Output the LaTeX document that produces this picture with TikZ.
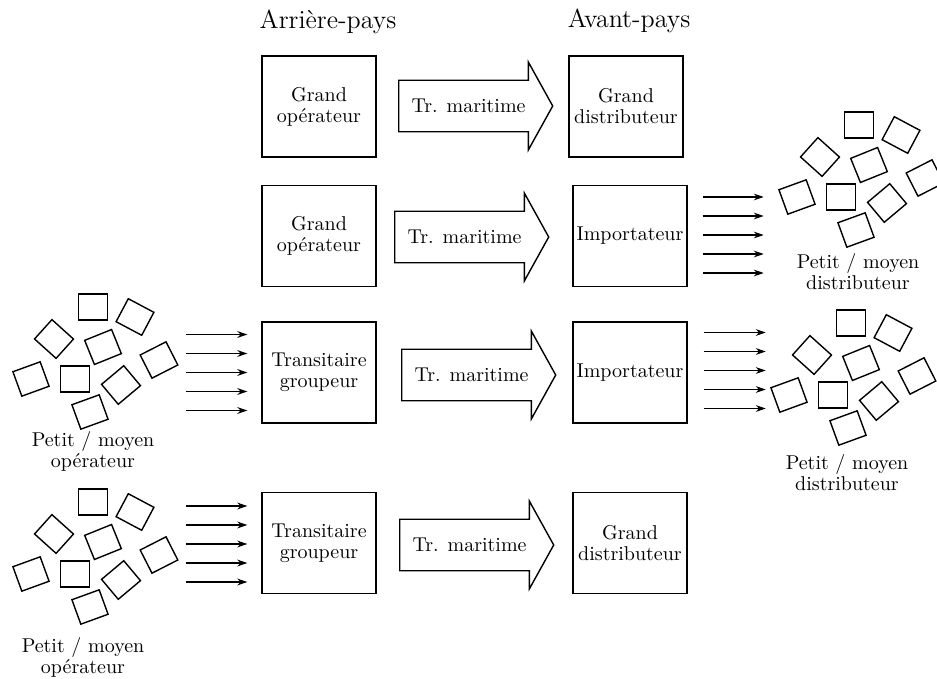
\documentclass[tikz,border=0pt]{standalone}
\usetikzlibrary{positioning, shapes.arrows, arrows.meta, calc}

\begin{document}
\begin{tikzpicture}[x=0.5pt, y=-0.5pt, font=\fontsize{10}{10.5}\selectfont,
  box/.style={draw, line width=0.7pt, minimum width=57pt, minimum height=50.5pt, align=center, inner sep=1pt},
  flow/.style={draw, line width=0.7pt, single arrow, single arrow head extend=8.25pt, single arrow tip angle=122, minimum height=77pt, minimum width=44pt, anchor=tail, inner xsep=2pt, inner ysep=7.8pt},
  sq/.style={draw, line width=0.7pt, minimum width=14.5pt, minimum height=13pt, inner sep=0pt},
  lbl/.style={align=center},
  hd/.style={font=\fontsize{13}{15}\selectfont},
  arr/.style={-{Stealth[length=5pt, width=3.4pt]}, line width=0.6pt},
  cluster/.pic={
    \node[sq] (-s1) at (0,0) {};
    \node[sq, rotate=-28] (-s2) at (42,10) {};
    \node[sq, rotate=-42] (-s3) at (-39,32) {};
    \node[sq, rotate=22] (-s4) at (10,40) {};
    \node[sq, rotate=27] (-s5) at (66,53) {};
    \node[sq, rotate=20] (-s6) at (-62,72) {};
    \node[sq] (-s7) at (-18,72) {};
    \node[sq, rotate=40] (-s8) at (28,78) {};
    \node[sq, rotate=20] (-s9) at (-3,105) {};
  }
]
  \useasboundingbox (0,0) rectangle (937,679);

  \node[hd] (hda) at (328,22) {Arrière-pays};
  \node[hd] (hdb) at (629,21) {Avant-pays};

  % arriere-pays
  \node[box] (g1) at (319,106.5) {Grand\\opérateur};
  \node[box] (g2) at (319,236) {Grand\\opérateur};
  \node[box] (t3) at (319,372.5) {Transitaire\\groupeur};
  \node[box] (t4) at (319,543) {Transitaire\\groupeur};

  % transport
  \node[flow] (m1) at (398,106) {Tr. maritime};
  \node[flow] (m2) at (394,237) {Tr. maritime};
  \node[flow] (m3) at (401,375) {Tr. maritime};
  \node[flow] (m4) at (399,545) {Tr. maritime};

  % avant-pays
  \node[box] (d1) at (626,106.5) {Grand\\distributeur};
  \node[box] (i2) at (630,236) {Importateur};
  \node[box] (i3) at (630,372.5) {Importateur};
  \node[box] (d4) at (630,543) {Grand\\distributeur};

  % petits operateurs / distributeurs
  \pic (c3) at (93,307) {cluster};
  \pic (c4) at (93,502) {cluster};
  \pic (c2) at (859,125) {cluster};
  \pic (c5) at (851,323) {cluster};

  \node[lbl] (p3) at (93,451.5) {Petit / moyen\\opérateur};
  \node[lbl] (p4) at (83,657.5) {Petit / moyen\\opérateur};
  \node[lbl] (p2) at (858,271.5) {Petit / moyen\\distributeur};
  \node[lbl] (p5) at (847,472.5) {Petit / moyen\\distributeur};

  \foreach \dy in {-38,-19,0,19,38} {
    \draw[arr] ($(t3.west)+(-75,\dy)$) -- ($(t3.west)+(-14,\dy)$);
    \draw[arr] ($(t4.west)+(-75,\dy+1)$) -- ($(t4.west)+(-14,\dy+1)$);
    \draw[arr] ($(i2.east)+(15,\dy-1)$) -- ($(i2.east)+(76,\dy-1)$);
    \draw[arr] ($(i3.east)+(16,\dy-2)$) -- ($(i3.east)+(78,\dy-2)$);
  }
\end{tikzpicture}
\end{document}
